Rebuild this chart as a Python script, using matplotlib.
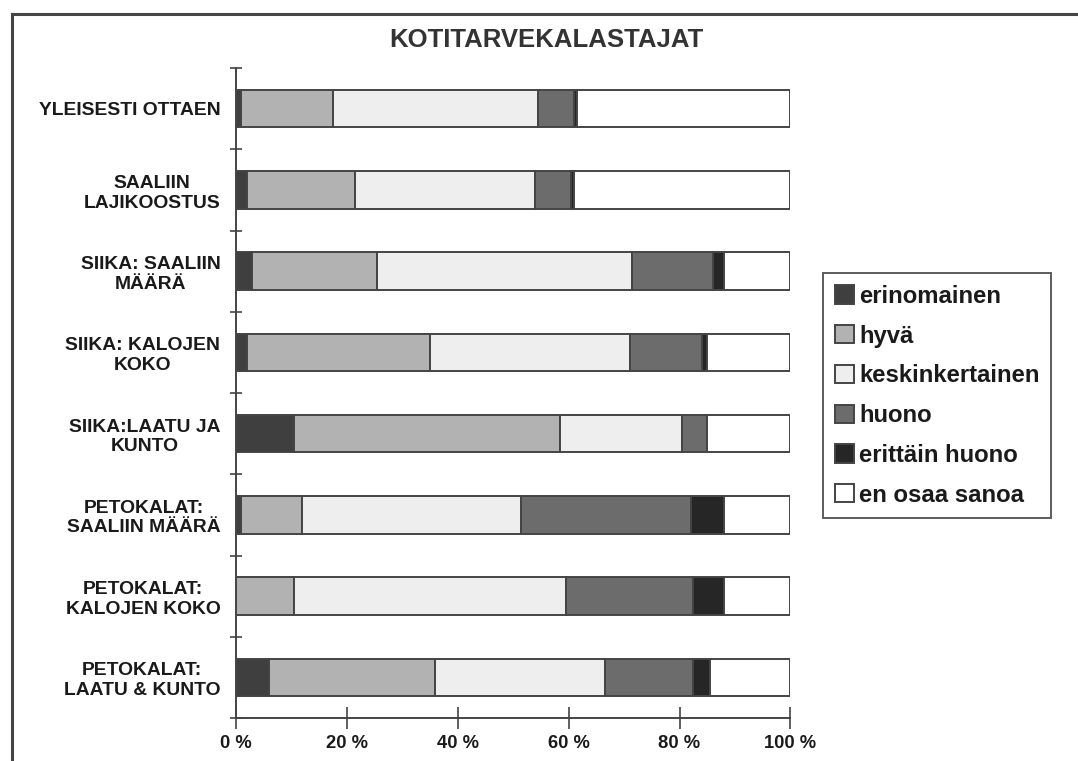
import matplotlib.pyplot as plt
import numpy as np
from matplotlib.lines import Line2D

plt.rcParams['font.family'] = ['Liberation Sans', 'DejaVu Sans']
plt.rcParams['font.weight'] = 'bold'

TITLE = 'KOTITARVEKALASTAJAT'

categories = [
    'YLEISESTI OTTAEN',
    'SAALIIN\nLAJIKOOSTUS',
    'SIIKA: SAALIIN\nMÄÄRÄ',
    'SIIKA: KALOJEN\nKOKO',
    'SIIKA:LAATU JA\nKUNTO',
    'PETOKALAT:\nSAALIIN MÄÄRÄ',
    'PETOKALAT:\nKALOJEN KOKO',
    'PETOKALAT:\nLAATU & KUNTO',
]

series_names = ['erinomainen', 'hyvä', 'keskinkertainen', 'huono',
                'erittäin huono', 'en osaa sanoa']

# shares in percent, one list per answer class (same order as categories)
erinomainen = [1.0, 2.0, 3.0, 2.0, 10.5, 1.0, 0.0, 6.0]
hyva = [16.5, 19.5, 22.5, 33.0, 48.0, 11.0, 10.5, 30.0]
keskinkertainen = [37.0, 32.5, 46.0, 36.0, 22.0, 39.5, 49.0, 30.5]
huono = [6.5, 6.5, 14.5, 13.0, 4.5, 30.5, 23.0, 16.0]
erittain_huono = [0.5, 0.5, 2.0, 1.0, 0.0, 6.0, 5.5, 3.0]
en_osaa = [38.5, 39.0, 12.0, 15.0, 15.0, 12.0, 12.0, 14.5]

x_ticks = [0, 20, 40, 60, 80, 100]
x_tick_labels = ['0 %', '20 %', '40 %', '60 %', '80 %', '100 %']

colors = ['#3f3f3f', '#b2b2b2', '#eeeeee', '#6c6c6c', '#262626', '#ffffff']
edge = '#444444'
text_col = '#1a1a1a'

series = [erinomainen, hyva, keskinkertainen, huono, erittain_huono, en_osaa]

fig = plt.figure(figsize=(10.78, 7.61), dpi=100)
ax = fig.add_axes([0.2185, 0.0565, 0.7333 - 0.2185, 0.9106 - 0.0565])

y = np.arange(len(categories))
left = np.zeros(len(categories))
handles = []
for name, vals, col in zip(series_names, series, colors):
    vals = np.array(vals)
    bars = ax.barh(y, vals, left=left, height=0.46, color=col,
                   edgecolor=edge, linewidth=1.4, label=name)
    handles.append(bars)
    left += vals

ax.set_xlim(0, 100)
ax.set_ylim(len(categories) - 0.5, -0.5)

# category boundaries get the small cross ticks, labels sit on the bar centres
ax.set_yticks(np.arange(len(categories) + 1) - 0.5)
ax.set_yticklabels([])
ax.tick_params(axis='y', which='major', direction='inout', length=9,
               width=1.2, color=edge)
ax.set_yticks(y, minor=True)
ax.set_yticklabels(categories, minor=True, fontsize=13.9,
                   multialignment='center', linespacing=1.2,
                   color=text_col)
ax.tick_params(axis='y', which='minor', length=0, pad=11)

ax.set_xticks(x_ticks)
ax.set_xticklabels(x_tick_labels, fontsize=13.2, color=text_col)
ax.tick_params(axis='x', direction='inout', length=16, width=1.2,
               color=edge, pad=4)

for side in ['top', 'right']:
    ax.spines[side].set_visible(False)
for side in ['left', 'bottom']:
    ax.spines[side].set_color(edge)
    ax.spines[side].set_linewidth(1.4)

fig.text(0.507, 0.948, TITLE, ha='center', va='center', fontsize=18.5,
         fontweight='bold', color='#333333')

leg = fig.legend(handles=handles, labels=series_names, loc='upper left',
                 bbox_to_anchor=(0.7635, 0.6413), fontsize=17.2,
                 frameon=True, fancybox=False, edgecolor='#333333',
                 handlelength=0.8, handleheight=0.8, handletextpad=0.2,
                 labelspacing=0.7, borderpad=0.5, borderaxespad=0)
leg.get_frame().set_linewidth(1.4)
for t in leg.get_texts():
    t.set_color(text_col)

# outer frame of the chart area
fig.add_artist(Line2D([0.011, 1.0], [0.982, 0.982], color='#444444',
                      linewidth=2.2, transform=fig.transFigure))
fig.add_artist(Line2D([0.011, 0.011], [0.0, 0.982], color='#444444',
                      linewidth=2.2, transform=fig.transFigure))

fig.savefig('out.png', dpi=100)
